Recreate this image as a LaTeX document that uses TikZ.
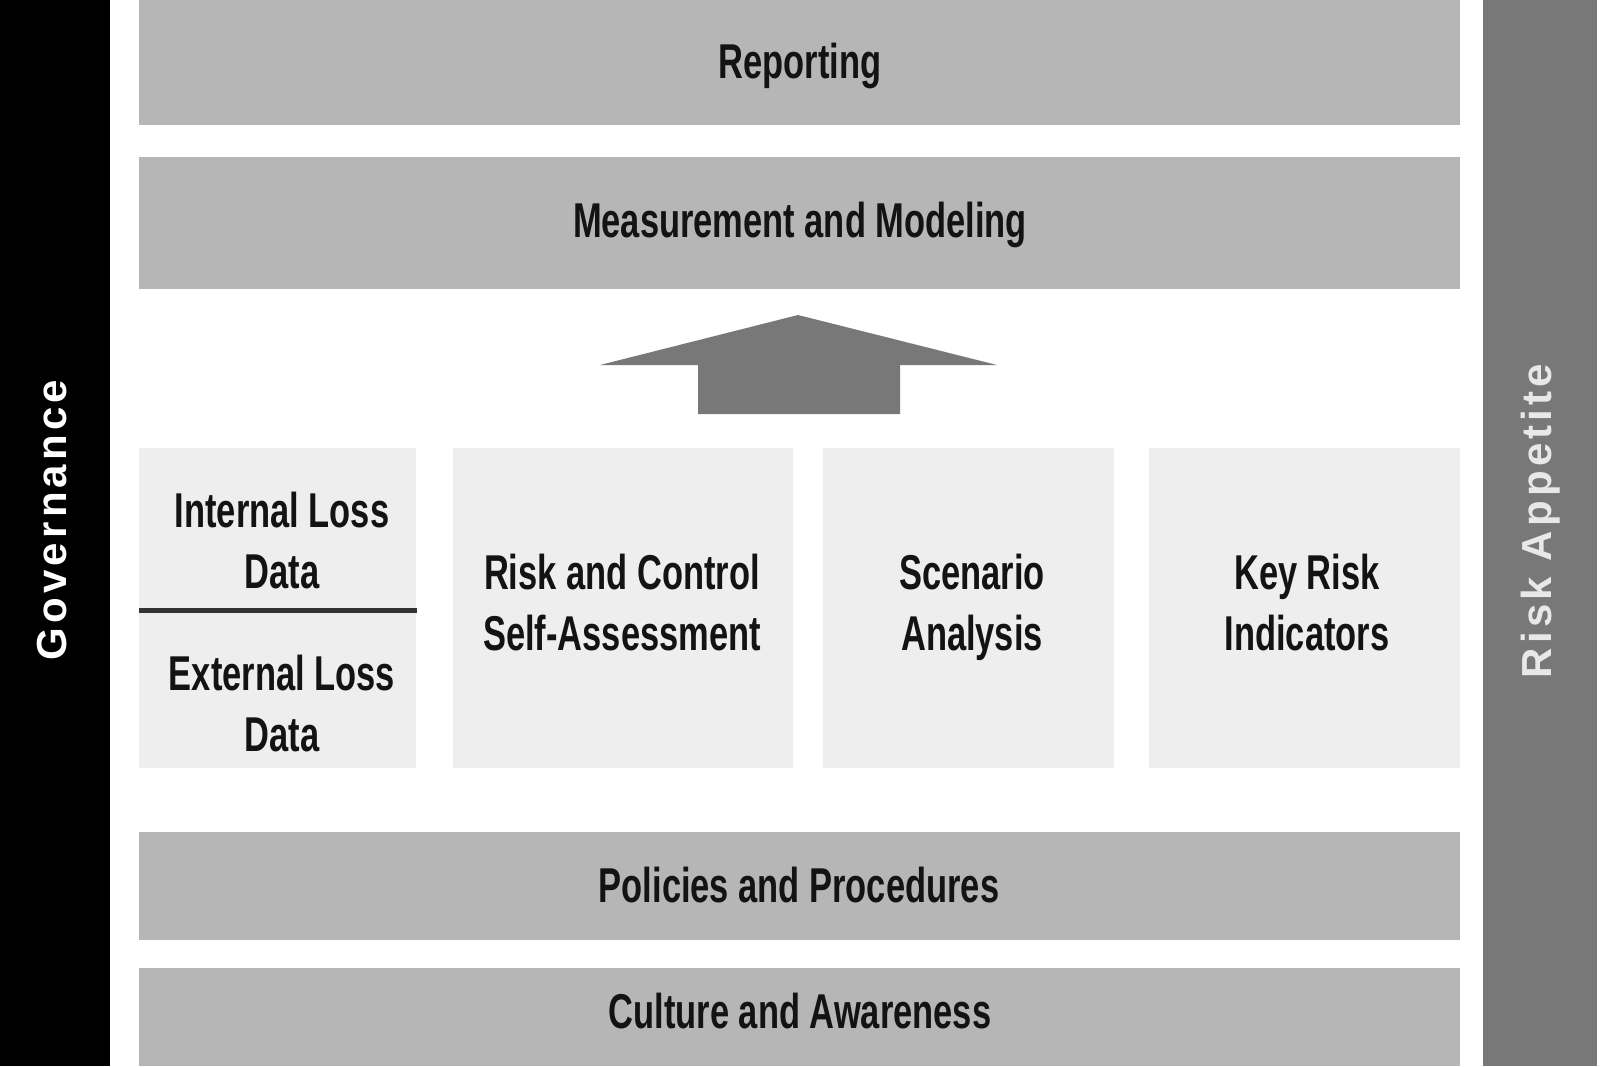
\documentclass[tikz,border=0pt]{standalone}
\usepackage{fontspec}
\newfontfamily\condbf{Liberation Sans}[FakeStretch=0.705]
\newfontfamily\sidef{Liberation Sans}[LetterSpace=10]
\definecolor{bandgray}{HTML}{B6B6B6}
\definecolor{lightbox}{HTML}{EEEEEE}
\definecolor{midgray}{HTML}{787878}
\definecolor{txt}{HTML}{131313}
\definecolor{rulecol}{HTML}{333333}
\definecolor{apptext}{HTML}{E8E8E8}
\newcommand{\twolines}[2]{\begin{tabular}[t]{@{}c@{}}#1\\#2\end{tabular}}
\tikzset{
  panel/.style={rectangle, draw=none, inner sep=0pt, outer sep=0pt},
  band/.style={panel, fill=bandgray},
  sourcebox/.style={panel, fill=lightbox},
  lbl/.style={font=\condbf\bfseries\fontsize{48.9pt}{61pt}\selectfont, text=txt, inner sep=0pt, anchor=base},
  sidelbl/.style={font=\sidef\bfseries\fontsize{42pt}{50pt}\selectfont, inner sep=0pt, anchor=base, rotate=90},
}
\begin{document}
\begin{tikzpicture}[x=1pt,y=-1pt]
\fill[white] (0,0) rectangle (1600,1066);
\useasboundingbox (0,0) rectangle (1600,1066);
% side bars
\node[panel, fill=black, minimum width=110pt, minimum height=1066pt] (gov) at (55,533) {};
\node[panel, fill=midgray, minimum width=114pt, minimum height=1066pt] (app) at (1540,533) {};
\node[sidelbl, text=white] (govT) at (66,520) {Governance};
\node[sidelbl, text=apptext] (appT) at (1551,521) {Risk Appetite};
% horizontal bands
\node[band, minimum width=1321pt, minimum height=125pt] (rep) at (799.5,62.5) {};
\node[band, minimum width=1321pt, minimum height=132pt] (mea) at (799.5,223) {};
\node[band, minimum width=1321pt, minimum height=108pt] (pol) at (799.5,886) {};
\node[band, minimum width=1321pt, minimum height=98pt] (cul) at (799.5,1017) {};
% source boxes
\node[sourcebox, minimum width=277pt, minimum height=320pt] (loss) at (277.5,608) {};
\node[sourcebox, minimum width=340pt, minimum height=320pt] (rcsa) at (623,608) {};
\node[sourcebox, minimum width=291pt, minimum height=320pt] (scen) at (968.5,608) {};
\node[sourcebox, minimum width=311pt, minimum height=320pt] (kri) at (1304.5,608) {};
% divider in loss data box
\coordinate (divL) at (139,610);
\coordinate (divR) at (417,610);
\draw[rulecol, line width=5pt] (divL) -- (divR);
% block arrow
\fill[midgray] (600,365) -- (798,315) -- (997,365) -- (900,365) -- (900,414) -- (698,414) -- (698,365) -- cycle;
% labels
\node[lbl] (repT) at (800,78) {Reporting};
\node[lbl] (meaT) at (800,237) {Measurement and Modeling};
\node[lbl] (intT) at (282,527) {\twolines{Internal Loss}{Data}};
\node[lbl] (extT) at (282,690) {\twolines{External Loss}{Data}};
\node[lbl] (rcsaT) at (622,589) {\twolines{Risk and Control}{Self-Assessment}};
\node[lbl] (scenT) at (972,589) {\twolines{Scenario}{Analysis}};
\node[lbl] (kriT) at (1307,589) {\twolines{Key Risk}{Indicators}};
\node[lbl] (polT) at (799,902) {Policies and Procedures};
\node[lbl] (culT) at (800,1028) {Culture and Awareness};
\end{tikzpicture}
\end{document}
